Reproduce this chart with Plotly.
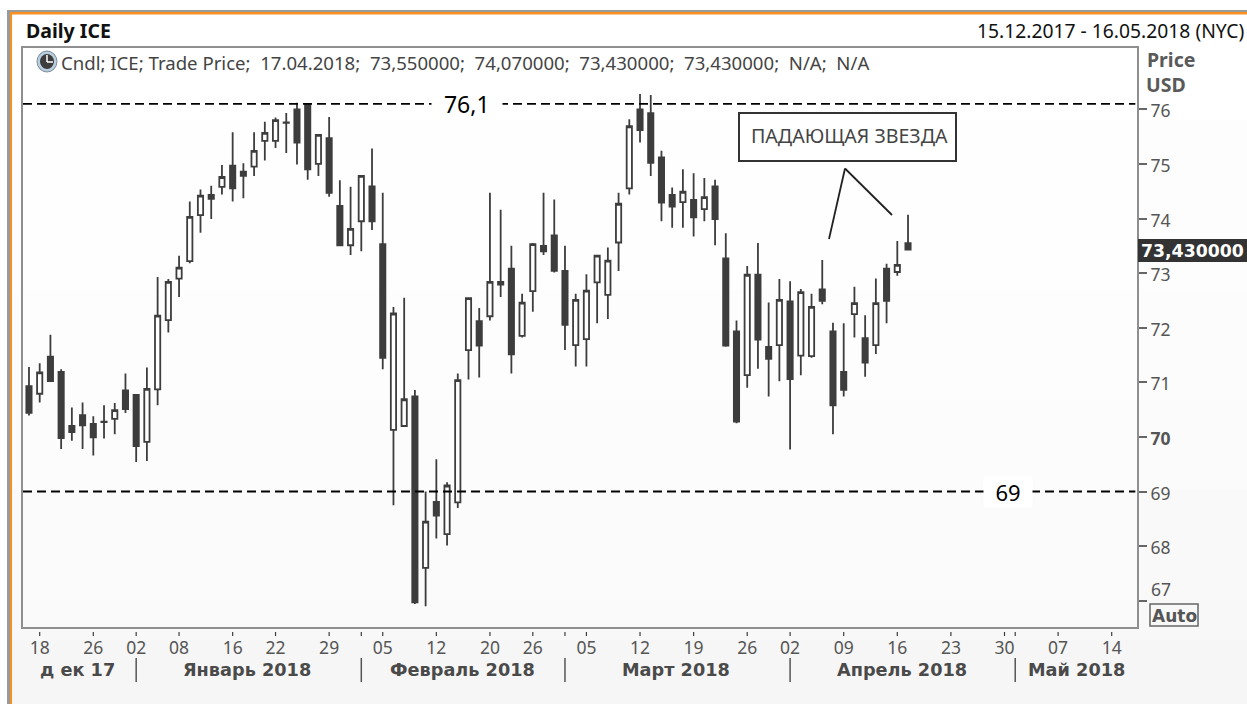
import plotly.graph_objects as go

sessions = list(range(-1, 82))  # trading-session number, 0 = 18 Dec 2017
highs = [71.28,71.35,71.87,71.24,70.54,70.63,70.38,70.58,70.62,71.16,70.77,71.27,72.93,72.89,73.32,74.31,74.53,74.60,74.98,75.58,75.01,75.58,75.77,75.85,75.93,76.12,76.10,75.53,75.86,74.70,74.58,74.78,75.28,74.47,72.38,72.55,70.86,69.00,69.59,69.17,71.16,72.54,72.36,74.47,74.16,73.50,72.62,73.55,74.47,74.35,73.50,72.62,72.98,73.32,73.47,74.47,75.82,76.28,76.26,75.24,74.57,74.90,74.83,74.74,74.71,73.73,72.13,73.13,73.55,72.46,72.89,72.85,72.71,72.62,73.24,72.09,72.08,72.75,72.23,72.90,73.17,73.59,74.07]
lows = [70.39,70.63,71.02,69.78,69.93,69.78,69.66,69.97,70.05,70.44,69.54,69.56,70.58,71.91,72.56,73.18,73.74,73.99,74.44,74.31,74.37,74.78,75.06,75.29,75.20,74.99,74.71,74.78,74.40,73.51,73.33,73.40,73.79,71.24,68.75,70.20,66.94,66.90,68.14,68.01,68.70,71.05,71.09,72.13,72.56,71.16,71.82,72.29,73.33,73.01,71.59,71.29,71.29,72.08,72.16,73.04,74.44,75.39,74.78,73.95,73.83,73.83,73.67,73.95,73.51,71.65,70.25,70.90,71.25,70.74,71.02,69.77,71.13,71.45,72.43,70.05,70.74,71.82,71.10,71.52,72.08,72.95,73.43]
opens = [70.93,70.79,71.47,71.19,70.20,70.40,70.24,70.28,70.33,70.85,70.77,69.91,70.87,72.14,72.90,73.22,74.06,74.43,74.58,74.97,74.86,74.95,75.42,75.42,75.76,76.00,76.10,75.00,75.47,74.23,73.51,73.95,74.59,73.53,70.13,70.20,70.74,67.60,68.81,68.22,68.80,71.59,72.12,72.21,72.84,73.08,71.85,72.67,73.50,73.69,73.04,71.68,71.79,72.83,72.60,73.56,74.55,76.00,75.93,75.12,74.43,74.30,74.34,74.17,74.59,73.27,71.93,71.13,72.97,71.65,71.68,72.48,71.49,71.48,72.70,71.93,71.19,72.25,71.81,71.68,73.08,73.02,73.55]
closes = [70.44,71.18,71.02,69.98,70.09,70.21,69.99,70.27,70.49,70.51,69.83,70.88,72.22,72.84,73.10,74.03,74.42,74.36,74.76,74.55,74.78,75.24,75.57,75.80,75.75,75.39,74.90,75.53,74.47,73.51,73.81,74.78,73.95,71.45,72.26,70.69,66.97,68.45,68.56,69.11,71.04,72.54,71.67,72.84,72.79,71.51,72.46,73.53,73.40,73.04,72.05,72.51,72.68,73.32,73.23,74.27,75.69,75.62,75.02,74.29,74.22,74.49,74.02,74.39,73.99,71.67,70.28,72.97,71.78,71.43,72.51,71.06,72.65,72.38,72.49,70.58,70.86,72.45,71.36,72.45,72.49,73.15,73.43]

price_ticks = [67,68,69,70,71,72,73,74,75,76]
price_labels = ["","68","69","<b>70</b>","71","72","73","74","75","76"]
day_ticks = [0,5,9,13,18,22,27,32,37,42,46,51,56,61,66,70,75,80,85,90,95,100]
day_labels = ["18","26","02","08","16","22","29","05","12","20","26","05","12","19","26","02","09","16","23","30","07","14"]
extra_ticks = [30,49,91]
month_names = ["д ек 17","Январь 2018","Февраль 2018","Март 2018","Апрель 2018","Май 2018"]
month_centers = [3.57,19.34,39.4,59.4,80.4,96.7]
month_dividers = [9,30,49,70,91]
levels = [76.1,69]
level_labels = ["76,1","69"]
level_label_pos = [39.9,90.3]
last_price = "73,430000"
info = "Cndl; ICE; Trade Price;  17.04.2018;  73,550000;  74,070000;  73,430000;  73,430000;  N/A;  N/A"

L, R, T, B = 23, 1137, 48, 627
W, H = 1247, 704
XMIN, XMAX = (L-39.7)/10.72, (R-39.7)/10.72
YMIN, YMAX = 76-(B-109.3)/54.6, 76-(T-109.3)/54.6
px = lambda v: (v-L)/(R-L)
py = lambda v: 1-(v-T)/(B-T)
DARK = "#3d3d3d"
GREY = "#8f8f8f"
TXT = "#555555"
SANS = "Noto Sans, sans-serif"
BOLD = "DejaVu Sans, sans-serif"

fig = go.Figure(go.Candlestick(
    x=sessions, open=opens, high=highs, low=lows, close=closes, whiskerwidth=0,
    increasing=dict(line=dict(color=DARK, width=1.8), fillcolor="#ffffff"),
    decreasing=dict(line=dict(color=DARK, width=1.8), fillcolor=DARK),
    showlegend=False, hoverinfo="skip"))

shapes = []
def rect(x0, y0, x1, y1, fill=None, line=None, lw=0, layer="below"):
    shapes.append(dict(type="rect", xref="paper", yref="paper", x0=px(x0), x1=px(x1), y0=py(y0), y1=py(y1),
                       fillcolor=fill or "rgba(0,0,0,0)", line=dict(color=line or "rgba(0,0,0,0)", width=lw), layer=layer))
def seg(x0, y0, x1, y1, color, lw, layer="above", dash=None):
    shapes.append(dict(type="line", xref="paper", yref="paper", x0=px(x0), x1=px(x1), y0=py(y0), y1=py(y1),
                       line=dict(color=color, width=lw, dash=dash), layer=layer))

rect(0, 0, W, H, "#ffffff")
rect(7, 10, W, H, "#9a9a9a")
rect(10, 12, W, H, "#f7901e")
rect(12, 14.5, W, H, "#ffffff")
bands = [(120,"#fdfdfd"),(290,"#fcfcfc"),(400,"#fbfbfb"),(490,"#f9f9f9"),(600,"#f8f8f8"),(640,"#f6f6f6")]
for top, col in bands:
    rect(12, top, W, H, col)
rect(L, T, R, B, "rgba(255,255,255,0.35)")

for v in day_ticks+extra_ticks:
    shapes.append(dict(type="line", xref="x", yref="paper", x0=v, x1=v, y0=py(632), y1=py(636),
                       line=dict(color=DARK, width=1.2), layer="above"))
for v in month_dividers:
    shapes.append(dict(type="line", xref="x", yref="paper", x0=v, x1=v, y0=py(658), y1=py(682),
                       line=dict(color="#555555", width=1.5), layer="above"))
for lv in levels:
    shapes.append(dict(type="line", xref="paper", yref="y", x0=0, x1=0.9985, y0=lv, y1=lv,
                       line=dict(color="#000000", width=1.8, dash="9px,5px"), layer="above"))

rect(739, 113, 956, 161, "#ffffff", "#333333", 2, "above")
seg(845, 168.5, 829, 239, "#222222", 1.8)
seg(845, 168.5, 892, 215, "#222222", 1.8)
rect(1138, 239, W, 262, "#333333", None, 0, "above")
rect(1150, 604, 1198, 626, "rgba(0,0,0,0)", "#666666", 1.5, "above")
# clock icon
shapes.append(dict(type="circle", xref="paper", yref="paper", x0=px(37), x1=px(57), y0=py(51), y1=py(72),
                   fillcolor="#b9cfe0", line=dict(color="#7b8a96", width=1), layer="above"))
shapes.append(dict(type="circle", xref="paper", yref="paper", x0=px(40), x1=px(54), y0=py(54), y1=py(69),
                   fillcolor="#3d3d3d", line=dict(width=0), layer="above"))
seg(47, 55, 47, 62, "#ffffff", 1.5)
seg(47, 62, 53, 62, "#ffffff", 1.5)

ann = []
def text(x, y, s, size=16, color="#333333", font=SANS, anchor="left", bg=None):
    ann.append(dict(xref="paper", yref="paper", x=px(x), y=py(y), text=s, showarrow=False, xanchor=anchor, yanchor="middle",
                    font=dict(family=font, size=size, color=color), bgcolor=bg, borderpad=0))
text(25, 31, "<b>Daily ICE</b>", 19.5, "#111111", SANS)
text(1246, 31, "15.12.2017 - 16.05.2018 (NYC)", 19.3, "#111111", SANS, "right")
text(60, 62, info, 18.6, "#444444", SANS)
text(1146, 59, "<b>Price</b>", 19.5, "#5a5a5a", SANS)
text(1145, 85, "<b>USD</b>", 19.5, "#5a5a5a", SANS)
text(1192, 251, "<b>"+last_price+"</b>", 17.3, "#ffffff", BOLD, "center")
text(1174, 616, "<b>Auto</b>", 17, "#555555", BOLD, "center")
text(1150, 589, "67", 17.5, TXT, SANS)
text(849, 136, "ПАДАЮЩАЯ ЗВЕЗДА", 19.6, "#444444", SANS, "center")
for s, c in zip(month_names, month_centers):
    ann.append(dict(xref="x", yref="paper", x=c, y=py(670), text="<b>"+s+"</b>", showarrow=False, xanchor="center", yanchor="middle",
                    font=dict(family=BOLD, size=17.7, color="#4a4a4a")))
for s, lv, pos, sz in zip(level_labels, levels, level_label_pos, [23, 22]):
    ann.append(dict(xref="x", yref="y", x=pos, y=lv, text="&nbsp;&nbsp;"+s+"&nbsp;&nbsp;", showarrow=False, xanchor="center", yanchor="middle",
                    font=dict(family=SANS, size=sz, color="#000000"), bgcolor="#ffffff", borderpad=0))

fig.update_layout(
    width=W, height=H, margin=dict(l=L, r=W-R, t=T, b=H-B), paper_bgcolor="#ffffff", plot_bgcolor="rgba(0,0,0,0)",
    shapes=shapes, annotations=ann, boxgap=0.3,
    xaxis=dict(range=[XMIN, XMAX], rangeslider=dict(visible=False), tickmode="array", tickvals=day_ticks, ticktext=day_labels,
               ticks="", showgrid=False, zeroline=False, showline=True, mirror=True, linecolor=GREY, linewidth=2,
               tickfont=dict(family=SANS, size=17.5, color=TXT), ticklabelstandoff=4),
    yaxis=dict(range=[YMIN, YMAX], side="right", tickmode="array", tickvals=price_ticks, ticktext=price_labels,
               ticks="outside", ticklen=8, tickwidth=1.5, tickcolor="#666666", showgrid=False, zeroline=False,
               showline=True, mirror=True, linecolor=GREY, linewidth=2, ticklabelshift=2,
               tickfont=dict(family=SANS, size=17.5, color=TXT)),
)
fig.write_html("out.html", config=dict(displayModeBar=False),
               post_script="document.body.style.margin='0';document.body.style.overflow='hidden';")
